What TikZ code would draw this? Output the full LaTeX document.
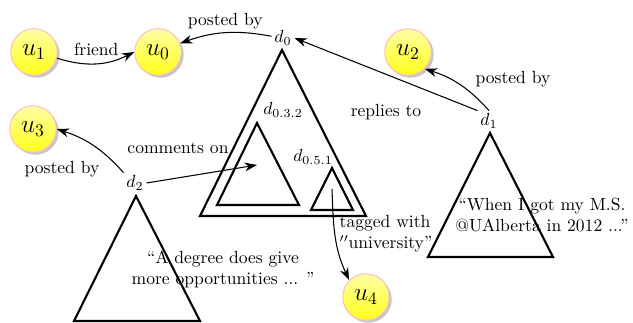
\documentclass[tikz,border=0pt]{standalone}
\usetikzlibrary{arrows.meta,shadows}
\begin{document}
\begin{tikzpicture}[x=0.02cm,y=-0.02cm,
  user/.style={circle,minimum size=0.93cm,inner sep=0pt,draw=red!25,line width=0.6pt,
    top color=yellow!35,bottom color=yellow!90,
    drop shadow={opacity=0.45,shadow xshift=1.4pt,shadow yshift=-1.4pt},font=\Large},
  doc/.style={inner sep=1.5pt},
  tri/.style={line width=1.2pt,line join=miter},
  rel/.style={-{Stealth[length=7pt,width=5pt,inset=2.2pt]},line width=0.6pt},
  lbl/.style={inner sep=1pt}]
\useasboundingbox (0,0) rectangle (633,322);

% users
\node[user] (u1) at (34,52) {$u_1$};
\node[user] (u0) at (158,52) {$u_0$};
\node[user] (u2) at (408,52) {$u_2$};
\node[user] (u3) at (33,129) {$u_3$};
\node[user] (u4) at (366,297) {$u_4$};

% documents
\node[doc] (d0) at (283,38) {$d_0$};
\node[doc] (d1) at (489,121) {$d_1$};
\node[doc] (d2) at (135,183) {$d_2$};
\node[doc] (d032) at (283,110) {$d_{0.3.2}$};
\node[doc] (d051) at (313,157) {$d_{0.5.1}$};

% triangles
\draw[tri] (282,50) -- (366,216) -- (200,216) -- cycle;
\draw[tri] (257,123) -- (299,205) -- (217,205) -- cycle;
\draw[tri] (332,168) -- (353,210) -- (311,210) -- cycle;
\draw[tri] (490,133) -- (553,257) -- (428,257) -- cycle;
\draw[tri] (136,196) -- (200,321) -- (74,321) -- cycle;

\coordinate (c032) at (257,165);
\coordinate (c051) at (332,189);

% texts in triangles
\node[align=center] (t2) at (223,269) {``A degree does give\\ more opportunities ... ''};
\node[align=center] (t1) at (542,215) {``When I got my M.S.\\ @UAlberta in 2012 ...''};

% relations
\draw[rel] (u1.-15) to[bend right=22] node[lbl,above=3pt] {friend} (u0.west);
\draw[rel] (d0) to[bend right=15] node[lbl,above=1pt] {posted by} (u0);
\draw[rel] (d1.north west) -- (d0.east);
\node (rep) at (386,112) {replies to};
\draw[rel] (d1.north) to[bend right=15] (u2.south east);
\node (pb1) at (513,79) {posted by};
\draw[rel] (d2.north west) to[bend right=15] (u3.east);
\node (pb3) at (62,169) {posted by};
\draw[rel] (d2.east) -- (c032);
\node (com) at (178,148) {comments on};
\draw[rel] (c051) to[out=-88,in=115] (u4.north west);
\node[align=left] (tag) at (386,234) {tagged with\\ $''$university''};
\end{tikzpicture}
\end{document}
